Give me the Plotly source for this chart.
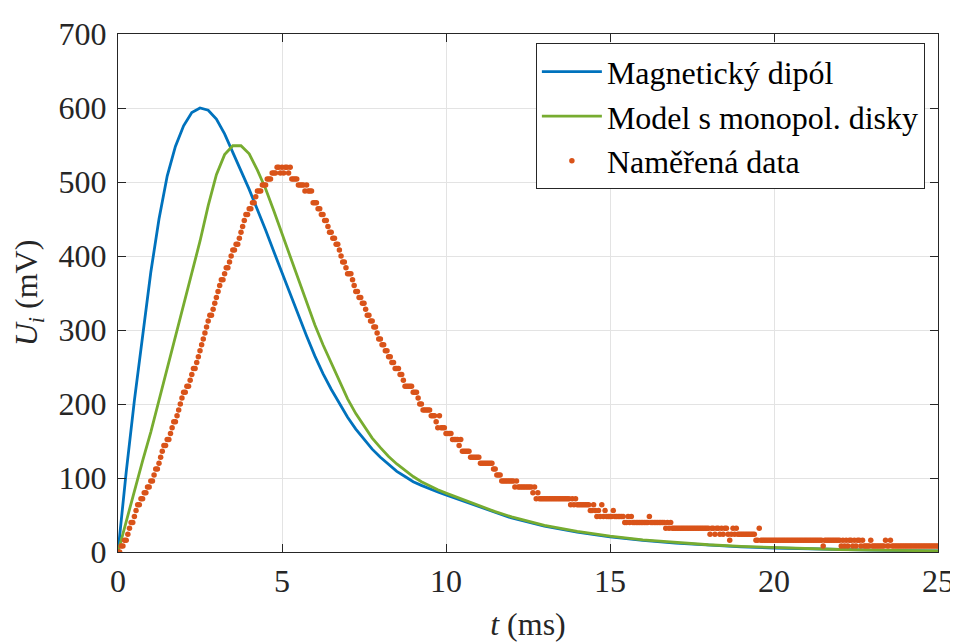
import plotly.graph_objects as go

# ---- model curves (ms, mV) ----
t_model = [0, 0.25, 0.5, 0.75, 1.0, 1.25, 1.5, 1.75, 2.0, 2.25, 2.5, 2.75, 3.0, 3.25, 3.5, 3.75,
           4.0, 4.25, 4.5, 4.75, 5.0, 5.25, 5.5, 5.75, 6.0, 6.25, 6.5, 6.75, 7.0, 7.25, 7.5, 7.75,
           8.0, 8.25, 8.5, 8.75, 9.0, 9.25, 9.5, 9.75, 10.0, 10.5, 11.0, 11.5, 12.0, 13.0, 14.0,
           15.0, 16.0, 17.0, 18.0, 19.0, 20.0, 21.0, 22.0, 23.0, 24.0, 25.0]

dipole_mV = [0, 108, 205, 295, 378, 450, 508, 548, 576, 594, 600, 597, 585, 565, 541, 515,
             490, 463, 435, 406, 377, 349, 320, 292, 265, 241, 220, 200, 182, 166, 152, 139,
             128, 118, 109, 102, 95, 90, 85, 81, 77, 69, 61, 53, 46, 35, 27,
             20.5, 15.6, 12, 9.2, 7, 5.4, 4.1, 3.2, 2.4, 1.9, 1.4]

monopole_mV = [0, 42, 83, 123, 162, 205, 248, 290, 331, 374, 420, 468, 510, 537, 549, 549,
               538, 516, 491, 461, 430, 398, 367, 337, 307, 280, 255, 230, 207, 187, 170, 154,
               141, 129, 119, 110, 102, 95, 89, 84, 79.5, 71, 62.5, 54.5, 47.5, 36, 28,
               21.5, 16.5, 12.7, 9.8, 7.5, 5.8, 4.4, 3.4, 2.6, 2.0, 1.5]

# ---- measured data: one sample every 0.05 ms, one row per millisecond (mV) ----
meas_dt_ms = 0.05
meas_rows_mV = [
    [0, 0, 8, 8, 16, 16, 24, 32, 40, 40, 48, 56, 64, 64, 72, 72, 80, 80, 88, 88],
    [96, 96, 104, 112, 112, 120, 128, 136, 144, 144, 152, 152, 160, 168, 176, 176, 184, 192, 200, 208],
    [216, 216, 224, 224, 232, 240, 248, 248, 256, 264, 272, 280, 288, 296, 304, 312, 320, 320, 328, 336],
    [344, 352, 360, 368, 368, 376, 384, 384, 392, 400, 408, 408, 416, 416, 424, 432, 440, 448, 456, 456],
    [464, 464, 472, 472, 480, 488, 488, 488, 496, 496, 496, 504, 504, 504, 512, 512, 512, 520, 520, 512],
    [520, 512, 520, 520, 512, 520, 504, 504, 504, 504, 496, 496, 496, 496, 488, 496, 488, 488, 488, 472],
    [472, 472, 464, 464, 456, 456, 448, 448, 440, 432, 432, 424, 424, 416, 416, 408, 400, 392, 392, 384],
    [376, 376, 376, 368, 360, 352, 352, 344, 344, 336, 336, 328, 320, 320, 312, 312, 304, 304, 296, 288],
    [288, 280, 280, 272, 272, 264, 264, 256, 256, 248, 248, 248, 240, 240, 232, 224, 224, 224, 224, 224],
    [216, 216, 216, 208, 200, 200, 192, 192, 192, 192, 192, 184, 184, 184, 176, 168, 184, 168, 168, 168],
    [160, 160, 160, 160, 152, 152, 152, 152, 144, 152, 136, 136, 136, 136, 136, 128, 128, 128, 128, 128],
    [128, 120, 120, 120, 120, 120, 120, 120, 120, 112, 112, 104, 104, 104, 96, 96, 96, 96, 96, 96],
    [96, 96, 88, 96, 88, 88, 88, 88, 88, 88, 88, 88, 88, 80, 88, 72, 80, 72, 72, 72],
    [72, 72, 72, 72, 72, 72, 72, 72, 72, 72, 72, 72, 72, 72, 72, 72, 64, 72, 64, 72],
    [64, 64, 64, 64, 64, 64, 64, 64, 56, 56, 64, 56, 48, 56, 48, 64, 48, 56, 48, 48],
    [48, 48, 56, 48, 48, 48, 48, 48, 48, 40, 40, 48, 40, 48, 40, 40, 40, 40, 40, 40],
    [40, 40, 40, 40, 48, 40, 40, 40, 40, 40, 40, 40, 40, 40, 32, 40, 32, 40, 32, 32],
    [32, 32, 32, 32, 32, 32, 32, 32, 32, 32, 32, 32, 32, 32, 32, 32, 32, 32, 32, 32],
    [32, 24, 32, 32, 24, 32, 32, 24, 32, 24, 32, 32, 24, 16, 24, 32, 24, 32, 24, 24],
    [24, 24, 24, 24, 24, 24, 24, 24, 24, 16, 16, 32, 16, 16, 16, 16, 16, 16, 16, 16],
    [16, 16, 16, 16, 16, 16, 16, 16, 16, 16, 16, 16, 16, 16, 16, 16, 16, 16, 16, 16],
    [16, 16, 16, 16, 16, 16, 16, 16, 16, 16, 8, 16, 16, 16, 16, 16, 16, 16, 16, 16],
    [16, 8, 16, 8, 16, 8, 16, 16, 8, 16, 8, 16, 16, 8, 16, 8, 8, 8, 8, 16],
    [8, 8, 8, 8, 8, 8, 8, 8, 16, 8, 8, 16, 8, 8, 8, 8, 8, 8, 8, 8],
    [8, 8, 8, 8, 8, 8, 8, 8, 8, 8, 8, 8, 8, 8, 8, 8, 8, 8, 8, 8],
    [8],
]

x_ticks = [0, 5, 10, 15, 20, 25]
y_ticks = [0, 100, 200, 300, 400, 500, 600, 700]

names = ["Magnetický dipól", "Model s monopol. disky", "Naměřená data"]
colors = ["#0072BD", "#77AC30", "#D95319"]

meas_mV = [v for row in meas_rows_mV for v in row]
meas_t = [i * meas_dt_ms for i in range(len(meas_mV))]

FONT = "Liberation Serif"
AX = "#262626"
GRID = "#e3e3e3"

fig = go.Figure()
fig.add_trace(go.Scatter(x=t_model, y=dipole_mV, mode="lines", name=names[0],
                         line=dict(color=colors[0], width=2.8)))
fig.add_trace(go.Scatter(x=t_model, y=monopole_mV, mode="lines", name=names[1],
                         line=dict(color=colors[1], width=2.8)))
fig.add_trace(go.Scatter(x=meas_t, y=meas_mV, mode="markers", name=names[2],
                         marker=dict(color=colors[2], size=5.5, line=dict(width=0))))

axis_common = dict(
    showline=True, linecolor=AX, linewidth=1.2, mirror="ticks",
    ticks="inside", ticklen=8, tickwidth=1.2, tickcolor=AX,
    showgrid=True, gridcolor=GRID, gridwidth=1, zeroline=False,
    automargin=False,
    tickfont=dict(family=FONT, size=32, color=AX),
)

# page body has an 8 px margin, so the figure is 8 px smaller and margins shifted
fig.update_layout(
    width=950, height=636,
    margin=dict(l=110, r=20, t=26, b=92),
    paper_bgcolor="white", plot_bgcolor="white",
    font=dict(family=FONT, size=32, color=AX),
    xaxis=dict(range=[0, 25], tickvals=x_ticks, ticktext=[str(v) for v in x_ticks],
               title=dict(text="<i>t</i> (ms)", font=dict(family=FONT, size=32, color=AX), standoff=15),
               **axis_common),
    yaxis=dict(range=[0, 700], tickvals=y_ticks, ticktext=[str(v) for v in y_ticks],
               ticklabelstandoff=4,
               title=dict(text="<i>U</i><sub><i>i</i></sub> (mV)", font=dict(family=FONT, size=32, color=AX), standoff=12),
               **axis_common),
    legend=dict(x=0.984, y=0.982, xanchor="right", yanchor="top",
                bgcolor="white", bordercolor=AX, borderwidth=1,
                font=dict(family=FONT, size=32, color="black"),
                itemwidth=60, tracegroupgap=0),
    showlegend=True,
)

fig.write_html("out.html")
